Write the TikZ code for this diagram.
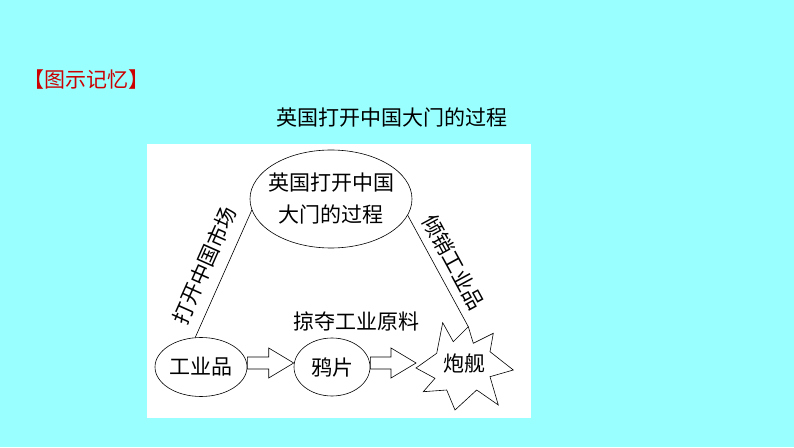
\documentclass[tikz,border=0pt]{standalone}
\usepackage{fontspec}
\newfontfamily\cjk{Noto Sans CJK SC}
\usepackage{tikz}
\usetikzlibrary{calc,shapes.geometric}
\definecolor{bgcyan}{RGB}{153,255,255}
\definecolor{titlered}{RGB}{204,0,0}

\tikzset{
  zh/.style={font=\cjk\fontsize{21}{30}\selectfont},
  oval/.style={ellipse,draw,semithick,zh,inner sep=0pt},
  fatarrow/.style={draw,semithick,fill=white,line join=miter}
}
% block arrow between two nodes (shaft 12, head 30 x 25)
\newcommand{\fatarr}[2]{%
  \draw[fatarrow] ($(#1)+(0,6)$) -- ($(#2)+(-25,6)$) -- ($(#2)+(-25,15)$)
    -- (#2) -- ($(#2)+(-25,-15)$) -- ($(#2)+(-25,-6)$) -- ($(#1)+(0,-6)$) -- cycle;}

\begin{document}
\begin{tikzpicture}[x=1pt,y=1pt,semithick]
        \fill[bgcyan] (0,0) rectangle (794,447);
        \useasboundingbox (0,0) rectangle (794,447);
        \fill[white] (147,29) rectangle (531,303);

        \node[zh,text=titlered] (memo) at (86,367) {【图示记忆】};
        \node[zh] (title) at (392,329) {英国打开中国大门的过程};

        \node[oval,inner xsep=-8pt,minimum width=162,minimum height=98,align=center] (top) at (331,248) {英国打开中国\\[2pt]大门的过程};
        \node[oval,minimum width=92,minimum height=59] (goods) at (201,80) {工业品};
        \node[oval,minimum width=76,minimum height=58] (opium) at (332,80) {鸦片};

        % star of the gunboats
        \draw[fill=white,line join=miter] (416,79) -- (436.7,93.7) -- (442.7,124.3) -- (453.3,105.3)
          -- (468.3,120.3) -- (473.3,103.7) -- (493.3,113.7) -- (490,95.3) -- (513.3,77)
          -- (490,70.3) -- (498.3,42) -- (476.7,57) -- (455,37) -- (446.7,57)
          -- (423.3,55.3) -- (435,68.7) -- cycle;
        \coordinate (tip) at (468.3,120.3);
        \coordinate (left) at (416,84);
        \node[zh] (gunboat) at (464,83) {炮舰};

        \node[zh] (raw) at (356,126) {掠夺工业原料};

        \coordinate (a1) at ($(goods.east)+(0,4)$);
        \coordinate (a2) at ($(opium.west)+(0,4)$);
        \coordinate (a3) at ($(opium.east)+(0,4)$);
        \fatarr{a1}{a2}
        \fatarr{a3}{left}

        \path (goods.101) edge node[zh,sloped,auto,inner sep=11pt] {打开中国市场} (top.188)
              (top.348) edge node[zh,sloped,auto,inner sep=8pt] {倾销工业品} (tip)
              ;
\end{tikzpicture}
\end{document}
